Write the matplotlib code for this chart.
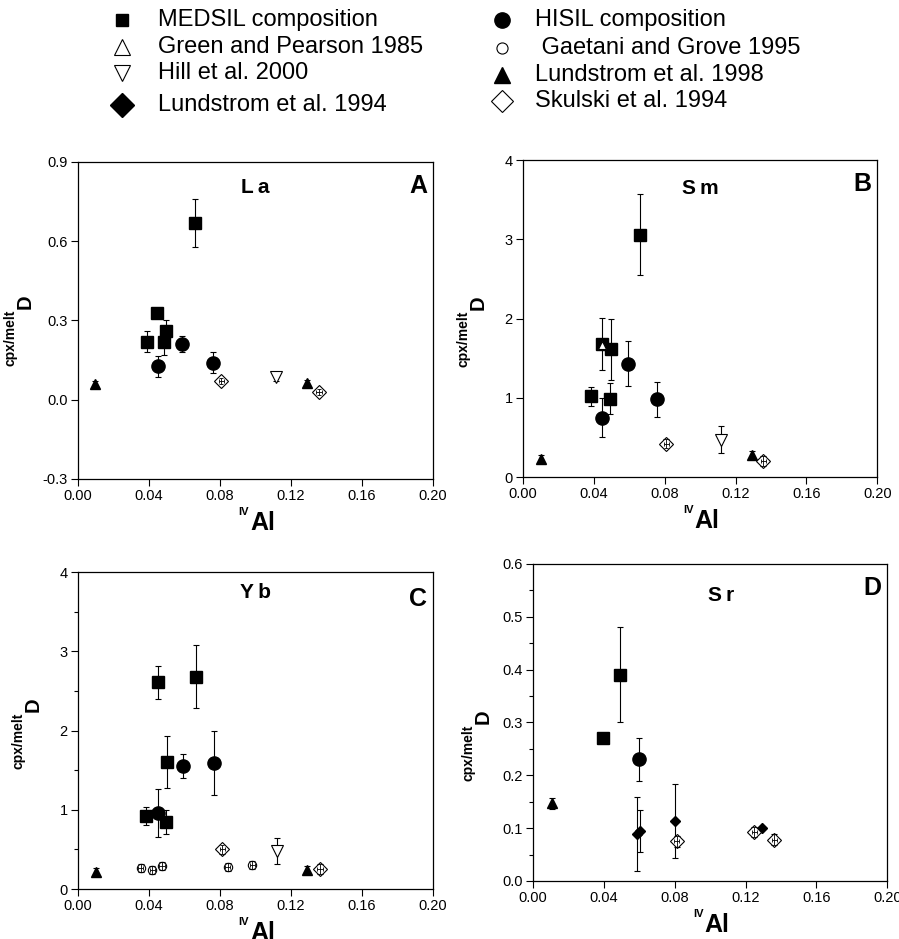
import matplotlib
matplotlib.use("Agg")
import matplotlib.pyplot as plt
from matplotlib.lines import Line2D
from matplotlib.ticker import MultipleLocator, FuncFormatter

plt.rcParams['font.family'] = ['Liberation Sans', 'DejaVu Sans']
plt.rcParams['axes.unicode_minus'] = False

# ---- data: (IVAl, D, error on D) ----
# panel A, La
la_medsil = ([0.0657, 0.0447, 0.039, 0.0485, 0.0498], [0.67, 0.33, 0.22, 0.22, 0.26], [0.09, 0.0, 0.04, 0.05, 0.04])
la_hisil = ([0.045, 0.0586, 0.076], [0.127, 0.21, 0.14], [0.04, 0.03, 0.04])
la_lund98 = ([0.0098, 0.1288], [0.06, 0.064], [0.01, 0.01])
la_hill = ([0.1117], [0.085], [0.015])
la_skulski = ([0.0808, 0.1358], [0.071, 0.029], [0.012, 0.012])

# panel B, Sm
sm_medsil = ([0.0659, 0.0446, 0.0499, 0.0386, 0.049], [3.06, 1.68, 1.61, 1.02, 0.99], [0.51, 0.33, 0.39, 0.12, 0.2])
sm_green = ([0.0446], [1.66], [0.0])
sm_hisil = ([0.0591, 0.0759, 0.0446], [1.43, 0.98, 0.75], [0.28, 0.22, 0.25])
sm_lund98 = ([0.01, 0.129], [0.23, 0.28], [0.05, 0.05])
sm_hill = ([0.112], [0.47], [0.17])
sm_skulski = ([0.081, 0.1356], [0.42, 0.2], [0.06, 0.06])

# panel C, Yb
yb_medsil = ([0.0453, 0.0663, 0.0501, 0.0385, 0.0494], [2.61, 2.68, 1.6, 0.92, 0.845], [0.21, 0.4, 0.33, 0.11, 0.15])
yb_hisil = ([0.0451, 0.0592, 0.0764], [0.96, 1.55, 1.59], [0.3, 0.15, 0.4])
yb_gaetani = ([0.0353, 0.0419, 0.0473, 0.0843, 0.0982], [0.27, 0.245, 0.285, 0.28, 0.3], [0.05, 0.05, 0.05, 0.05, 0.05])
yb_lund98 = ([0.0103, 0.129], [0.22, 0.235], [0.05, 0.05])
yb_hill = ([0.1121], [0.48], [0.16])
yb_skulski = ([0.0813, 0.1362], [0.5, 0.25], [0.06, 0.06])

# panel D, Sr
sr_medsil = ([0.0492, 0.0393], [0.39, 0.27], [0.09, 0.0])
sr_hisil = ([0.0596], [0.23], [0.04])
sr_lund94 = ([0.0586, 0.0605, 0.0803, 0.1293], [0.089, 0.094, 0.114, 0.101], [0.07, 0.04, 0.07, 0.0])
sr_lund98 = ([0.0107], [0.147], [0.01])
sr_skulski = ([0.0812, 0.125, 0.1363], [0.075, 0.093, 0.078], [0.01, 0.01, 0.01])

legend_left = ['MEDSIL composition', 'Green and Pearson 1985', 'Hill et al. 2000', 'Lundstrom et al. 1994']
legend_right = ['HISIL composition', ' Gaetani and Grove 1995', 'Lundstrom et al. 1998', 'Skulski et al. 1994']

STY = {
    'medsil': dict(marker='s', ms=9, mfc='black', mec='black'),
    'hisil': dict(marker='o', ms=9.5, mfc='black', mec='black'),
    'green': dict(marker='^', ms=6, mfc='white', mec='black', mew=0.8),
    'gaetani': dict(marker='o', ms=6, mfc='white', mec='black', mew=0.8),
    'hill': dict(marker='v', ms=8, mfc='white', mec='black', mew=0.8),
    'lund98': dict(marker='^', ms=7, mfc='black', mec='black'),
    'lund94': dict(marker='D', ms=5, mfc='black', mec='black'),
    'skulski': dict(marker='D', ms=7, mfc='white', mec='black', mew=0.8),
}


def draw(ax, series, key):
    x, y, e = series
    ax.errorbar(x, y, yerr=e, fmt='none', ecolor='black', elinewidth=0.8, capsize=2.5, capthick=0.8, zorder=2)
    ax.plot(x, y, ls='none', zorder=3, **STY[key])
    if key in ('skulski', 'gaetani'):
        # small crosshair error bars inside the open symbols
        ax.errorbar(x, y, yerr=e, xerr=0.0015, fmt='none', ecolor='black', elinewidth=0.6,
                    capsize=1.5, capthick=0.6, zorder=4)


fig = plt.figure(figsize=(8.99, 9.39), dpi=100)

# rect, element, letter, ylim, major, minor, ylabel coords, element pos, letter y, series
panels = [
    ([0.0868, 0.4899, 0.395, 0.3376], 'La', 'A', (-0.3, 0.9), 0.3, None, (-0.121, 0.558), (0.5, 0.918), 0.924,
     [(la_medsil, 'medsil'), (la_hisil, 'hisil'), (la_lund98, 'lund98'), (la_hill, 'hill'), (la_skulski, 'skulski')]),
    ([0.5818, 0.492, 0.394, 0.3376], 'Sm', 'B', (0, 4), 1, None, (-0.099, 0.549), (0.5, 0.91), 0.925,
     [(sm_medsil, 'medsil'), (sm_green, 'green'), (sm_hisil, 'hisil'), (sm_lund98, 'lund98'), (sm_hill, 'hill'), (sm_skulski, 'skulski')]),
    ([0.0868, 0.0532, 0.395, 0.3376], 'Yb', 'C', (0, 4), 1, 0.5, (-0.099, 0.58), (0.5, 0.934), 0.916,
     [(yb_medsil, 'medsil'), (yb_hisil, 'hisil'), (yb_gaetani, 'gaetani'), (yb_lund98, 'lund98'), (yb_hill, 'hill'), (yb_skulski, 'skulski')]),
    ([0.5929, 0.0618, 0.394, 0.3376], 'Sr', 'D', (0, 0.6), 0.1, 0.05, (-0.113, 0.517), (0.53, 0.902), 0.924,
     [(sr_medsil, 'medsil'), (sr_hisil, 'hisil'), (sr_lund94, 'lund94'), (sr_lund98, 'lund98'), (sr_skulski, 'skulski')]),
]

for rect, elem, letter, ylim, ymaj, ymin, ylc, epos, ly, series in panels:
    ax = fig.add_axes(rect)
    for s, key in series:
        draw(ax, s, key)
    ax.set_xlim(0, 0.2)
    ax.set_ylim(*ylim)
    ax.xaxis.set_major_locator(MultipleLocator(0.04))
    ax.yaxis.set_major_locator(MultipleLocator(ymaj))
    if ymin:
        ax.yaxis.set_minor_locator(MultipleLocator(ymin))
    ax.xaxis.set_major_formatter(FuncFormatter(lambda v, p: f'{v:.2f}'))
    if ymaj < 1:
        ax.yaxis.set_major_formatter(FuncFormatter(lambda v, p: f'{v:.1f}'))
    else:
        ax.yaxis.set_major_formatter(FuncFormatter(lambda v, p: f'{v:.0f}'))
    ax.tick_params(direction='out', length=5, width=0.8, labelsize=10.5, pad=2.5)
    ax.tick_params(which='minor', direction='out', length=3, width=0.8)
    for sp in ax.spines.values():
        sp.set_linewidth(0.9)

    # x label: Al with a small IV superscript
    ax.set_xlabel('Al', fontsize=18, fontweight='bold')
    ax.xaxis.set_label_coords(0.52, -0.1)
    ax.annotate('IV', xy=(0, 1), xycoords=ax.xaxis.label, xytext=(-1, -4.5), textcoords='offset points',
                ha='right', va='bottom', fontsize=8, fontweight='bold')
    # y label: D with a small cpx/melt superscript
    ax.set_ylabel('D', fontsize=14.5, fontweight='bold')
    ax.yaxis.set_label_coords(*ylc)
    ax.annotate('cpx/melt', xy=(0, 0), xycoords=ax.yaxis.label, xytext=(1, 0), textcoords='offset points',
                ha='right', va='top', rotation=90, fontsize=10, fontweight='bold')

    ax.text(epos[0], epos[1], '\u2009'.join(elem), transform=ax.transAxes, ha='center', va='center',
            fontsize=15, fontweight='bold')
    ax.text(0.983, ly, letter, transform=ax.transAxes, ha='right', va='center',
            fontsize=18, fontweight='bold')

# legend at top, two hand-placed columns (pixel positions of the keys)
W, H = 899.0, 939.0
left_keys = ['medsil', 'green', 'hill', 'lund94']
right_keys = ['hisil', 'gaetani', 'lund98', 'skulski']
left_rows = [20, 47, 73, 105]
right_rows = [20, 48, 75, 101]
leg_ms = {'medsil': 9, 'hisil': 11, 'green': 11, 'gaetani': 8, 'hill': 11, 'lund98': 11, 'lund94': 12, 'skulski': 11}
for keys, labels, rows, mx, tx in ((left_keys, legend_left, left_rows, 122, 158),
                                   (right_keys, legend_right, right_rows, 502, 535)):
    for k, lab, r in zip(keys, labels, rows):
        st = dict(STY[k])
        st['ms'] = leg_ms[k]
        fig.add_artist(Line2D([mx / W], [1 - r / H], transform=fig.transFigure, ls='none', **st))
        fig.text(tx / W, 1 - r / H, lab, ha='left', va='center', fontsize=17)

fig.savefig('out.png', dpi=100)
